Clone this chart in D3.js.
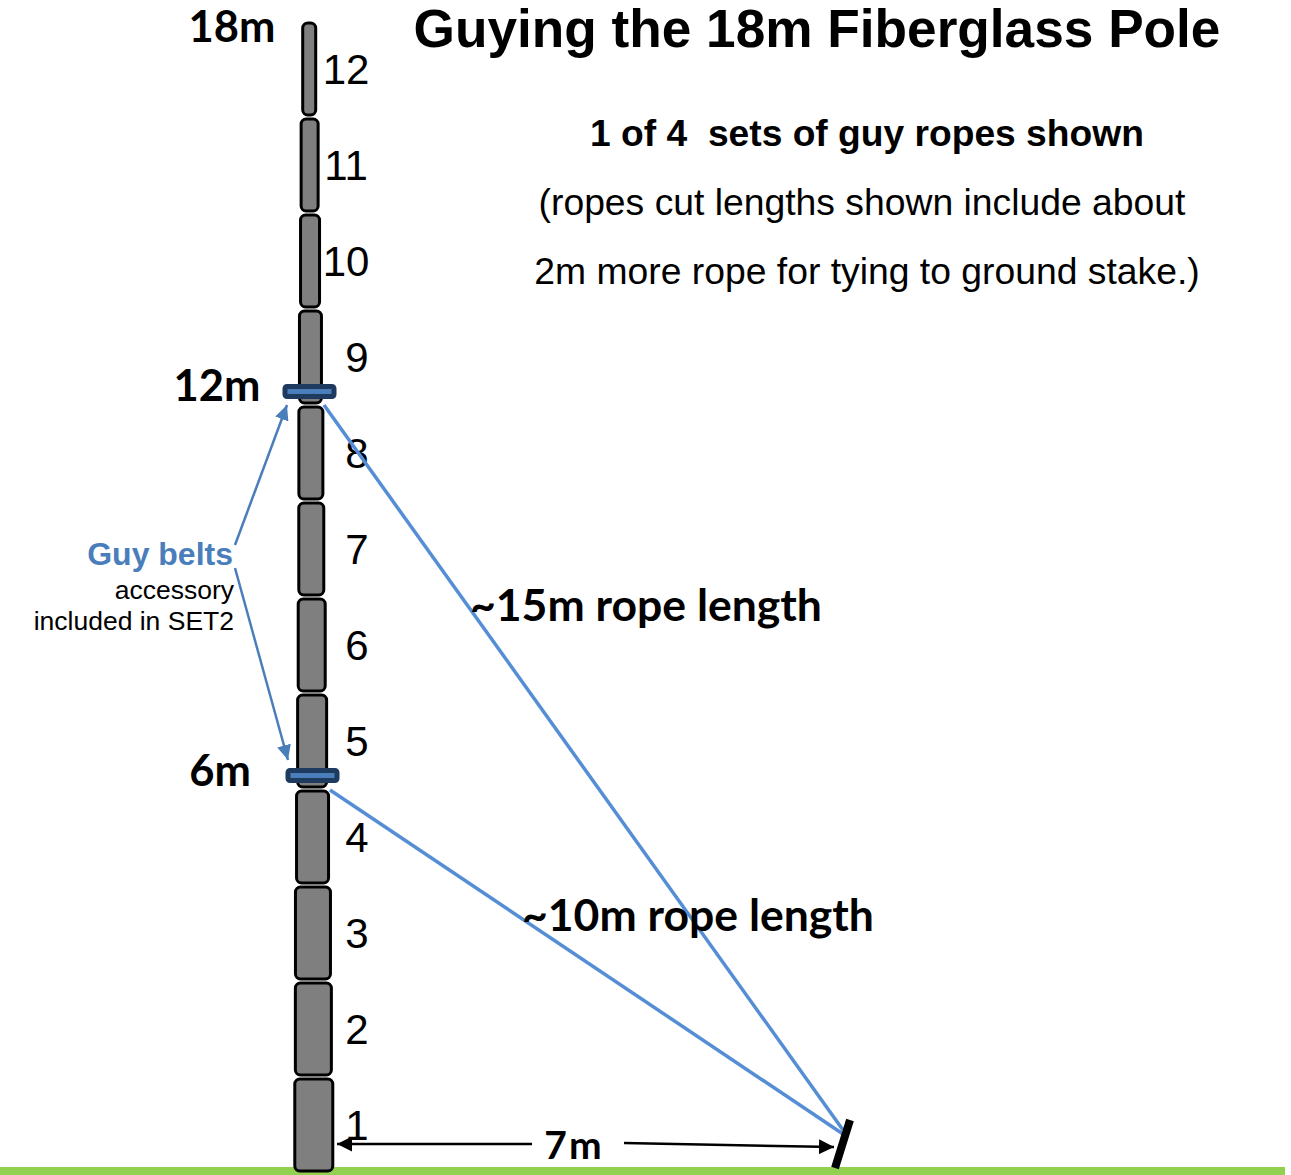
<!DOCTYPE html>
<html>
<head>
<meta charset="utf-8">
<script src="https://cdn.jsdelivr.net/npm/d3@7"></script>
<style>
  html, body { margin: 0; padding: 0; background: #fff; }
  svg { display: block; }
</style>
</head>
<body>
<div id="chart"></div>
<script>
// pole sections, bottom to top
const sections = [1, 2, 3, 4, 5, 6, 7, 8, 9, 10, 11, 12];
const sectionWidths = [38, 36, 35, 32, 29, 27, 25, 24, 22, 19, 17, 13];
const sectionLabels = ["1", "2", "3", "4", "5", "6", "7", "8", "9", "10", "11", "12"];

// guy belts: height in sections, label, rope length text
const beltHeights = [4.125, 8.125];
const beltLabels = ["6m", "12m"];
const ropeLabels = ["~10m rope length", "~15m rope length"];

const poleTopLabel = "18m";
const stakeDistance = 7; // metres from the pole foot

const width = 1291, height = 1175;
const blue = "#558ed5", beltBlue = "#4a7ebb", beltDark = "#1f3a5f";

const svg = d3.select("#chart").append("svg")
  .attr("width", width)
  .attr("height", height)
  .attr("viewBox", [0, 0, width, height]);

const y = d3.scaleLinear().domain([0, 12]).range([1171, 19]);
const xDist = d3.scaleLinear().domain([0, stakeDistance]).range([335, 838]);
const w = d3.scaleLinear().domain([0, 38]).range([0, 38]);
// the pole leans a little to the left going up
const xCenter = d3.scaleLinear().domain([0, 12]).range([314, 309]);

const defs = svg.append("defs");
function marker(id, color, mw, mh) {
  defs.append("marker")
    .attr("id", id)
    .attr("viewBox", `0 0 ${mw} ${mh}`)
    .attr("refX", mw).attr("refY", mh / 2)
    .attr("markerWidth", mw).attr("markerHeight", mh)
    .attr("markerUnits", "userSpaceOnUse")
    .attr("orient", "auto")
    .append("path")
    .attr("d", `M0,0L${mw},${mh / 2}L0,${mh}Z`)
    .attr("fill", color);
}
marker("headBlue", "#4a7ebb", 15, 14);
marker("headBlack", "#000", 15, 15);

// ground
svg.append("rect")
  .attr("x", 0).attr("y", 1167)
  .attr("width", 1285).attr("height", 8)
  .attr("fill", "#92d050");

// pole
svg.append("g").selectAll("rect")
  .data(sections)
  .join("rect")
  .attr("x", d => xCenter(d - 0.5) - w(sectionWidths[d - 1]) / 2)
  .attr("y", d => y(d) + 4)
  .attr("width", d => w(sectionWidths[d - 1]))
  .attr("height", d => y(d - 1) - y(d) - 4)
  .attr("rx", 5)
  .attr("fill", "#7f7f7f")
  .attr("stroke", "#000")
  .attr("stroke-width", 3);

svg.append("g")
  .attr("font-family", "Liberation Sans")
  .attr("font-size", 42)
  .selectAll("text")
  .data(sections)
  .join("text")
  .attr("x", d => d >= 10 ? 346 : 357)
  .attr("y", d => y(d) + 65)
  .attr("text-anchor", "middle")
  .text(d => sectionLabels[d - 1]);

// ropes
const stakeTop = [843, 1132];
const ropeStart = [[330, 790], [324, 405]];
svg.append("g").selectAll("line")
  .data(ropeStart)
  .join("line")
  .attr("x1", d => d[0]).attr("y1", d => d[1])
  .attr("x2", stakeTop[0]).attr("y2", (d, i) => stakeTop[1] + (i ? -2 : 2))
  .attr("stroke", blue)
  .attr("stroke-width", 3.5);

// stake
svg.append("line")
  .attr("x1", 850).attr("y1", 1120)
  .attr("x2", 835).attr("y2", 1168)
  .attr("stroke", "#000")
  .attr("stroke-width", 8);

// belts
const belts = svg.append("g").selectAll("g")
  .data(beltHeights)
  .join("g");
belts.append("rect")
  .attr("x", (d, i) => i ? 285 : 288)
  .attr("y", d => y(d) - 4.5)
  .attr("width", 49)
  .attr("height", 10)
  .attr("rx", 2)
  .attr("fill", beltBlue)
  .attr("stroke", beltDark)
  .attr("stroke-width", 5);

// guy belt pointers
svg.append("line")
  .attr("x1", 235).attr("y1", 545)
  .attr("x2", 287).attr("y2", 405)
  .attr("stroke", beltBlue).attr("stroke-width", 2.5)
  .attr("marker-end", "url(#headBlue)");
svg.append("line")
  .attr("x1", 235).attr("y1", 568)
  .attr("x2", 288).attr("y2", 760)
  .attr("stroke", beltBlue).attr("stroke-width", 2.5)
  .attr("marker-end", "url(#headBlue)");

// 7m dimension
svg.append("line")
  .attr("x1", 532).attr("y1", 1144)
  .attr("x2", xDist(0) + 2).attr("y2", 1144)
  .attr("stroke", "#000").attr("stroke-width", 2.5)
  .attr("marker-end", "url(#headBlack)");
svg.append("line")
  .attr("x1", 624).attr("y1", 1143)
  .attr("x2", xDist(stakeDistance) - 4).attr("y2", 1147)
  .attr("stroke", "#000").attr("stroke-width", 2.5)
  .attr("marker-end", "url(#headBlack)");

// labels
function label(str, x, yy, size, opts = {}) {
  return svg.append("text")
    .attr("x", x).attr("y", yy)
    .attr("font-family", opts.family || "Liberation Sans")
    .attr("font-size", size)
    .attr("font-weight", opts.weight || "normal")
    .attr("text-anchor", opts.anchor || "start")
    .attr("fill", opts.fill || "#000")
    .text(str);
}
const bold = { family: "Lato", weight: "bold" };

label("Guying the 18m Fiberglass Pole", 817, 47, 53.2, { weight: "bold", anchor: "middle" });
label("1 of 4  sets of guy ropes shown", 867, 146, 37.2, { weight: "bold", anchor: "middle" }).style("white-space", "pre");
label("(ropes cut lengths shown include about", 862, 215, 37.3, { anchor: "middle" });
label("2m more rope for tying to ground stake.)", 867, 284, 37.3, { anchor: "middle" });

label(poleTopLabel, 232, 42, 43.5, { ...bold, anchor: "middle" });
label(beltLabels[1], 217, 401, 43.5, { ...bold, anchor: "middle" });
label(beltLabels[0], 220, 786, 43.5, { ...bold, anchor: "middle" });
label(ropeLabels[1], 470, 621, 44.5, bold);
label(ropeLabels[0], 522, 931, 44.5, bold);
label("7m", 574, 1159, 39, { ...bold, anchor: "middle" }).attr("letter-spacing", 2);

label("Guy belts", 233, 565, 32, { weight: "bold", anchor: "end", fill: beltBlue });
label("accessory", 234, 599, 26.5, { anchor: "end" });
label("included in SET2", 234, 630, 26.5, { anchor: "end" });
</script>
</body>
</html>
